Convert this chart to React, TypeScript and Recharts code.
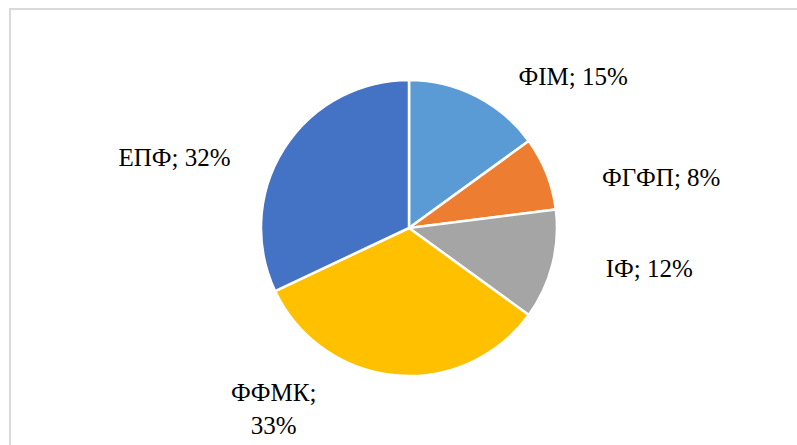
import * as React from "react"
import { PieChart, Pie, Cell } from "recharts"

// Fund shares
const funds = ["ФІМ", "ФГФП", "ІФ", "ФФМК", "ЕПФ"]
const shares = [15, 8, 12, 33, 32]
const colors = ["#5B9BD5", "#ED7D31", "#A5A5A5", "#FFC000", "#4472C4"]

// label layout: nudge from the anchor point just outside each slice
const labelNudge = [
  [81, 20],
  [82, 25],
  [63, 3],
  [-118, -9],
  [-80, 36],
]
const wrapLabel = [false, false, false, true, false]

const RAD = Math.PI / 180

const renderLabel = (props: any) => {
  const { cx, cy, midAngle, outerRadius, index, name, value } = props
  const r = outerRadius + 35
  const x = cx + r * Math.cos(-midAngle * RAD) + labelNudge[index][0]
  const y = cy + r * Math.sin(-midAngle * RAD) + labelNudge[index][1]
  const style = {
    fontFamily: "'Liberation Serif', 'Times New Roman', serif",
    fontSize: 25,
    fill: "#000",
  }
  if (wrapLabel[index]) {
    return (
      <text x={x} y={y} textAnchor="middle" style={style}>
        <tspan x={x}>{`${name};`}</tspan>
        <tspan x={x} dy={33}>{`${value}%`}</tspan>
      </text>
    )
  }
  return (
    <text x={x} y={y} textAnchor="middle" style={style}>
      {`${name}; ${value}%`}
    </text>
  )
}

export default function App() {
  const data = React.useMemo(
    () => funds.map((name, i) => ({ name, value: shares[i] })),
    []
  )

  return (
    <div
      style={{
        position: "fixed",
        left: 0,
        top: 0,
        width: 797,
        height: 445,
        overflow: "hidden",
        background: "#fff",
      }}
    >
      <div
        style={{
          position: "absolute",
          left: 9,
          top: 8,
          width: 800,
          height: 450,
          border: "2px solid #D9D9D9",
          boxSizing: "border-box",
        }}
      />
      <div style={{ position: "absolute", left: 0, top: 0 }}>
        <PieChart
          width={797}
          height={445}
          margin={{ top: 0, right: 0, bottom: 0, left: 0 }}
        >
          <Pie
            data={data}
            dataKey="value"
            nameKey="name"
            cx={409}
            cy={228}
            outerRadius={148}
            startAngle={90}
            endAngle={-270}
            stroke="#FFFFFF"
            strokeWidth={2.5}
            labelLine={false}
            label={renderLabel}
            isAnimationActive={false}
          >
            {data.map((entry, index) => (
              <Cell key={`cell-${index}`} fill={colors[index]} />
            ))}
          </Pie>
        </PieChart>
      </div>
    </div>
  )
}
